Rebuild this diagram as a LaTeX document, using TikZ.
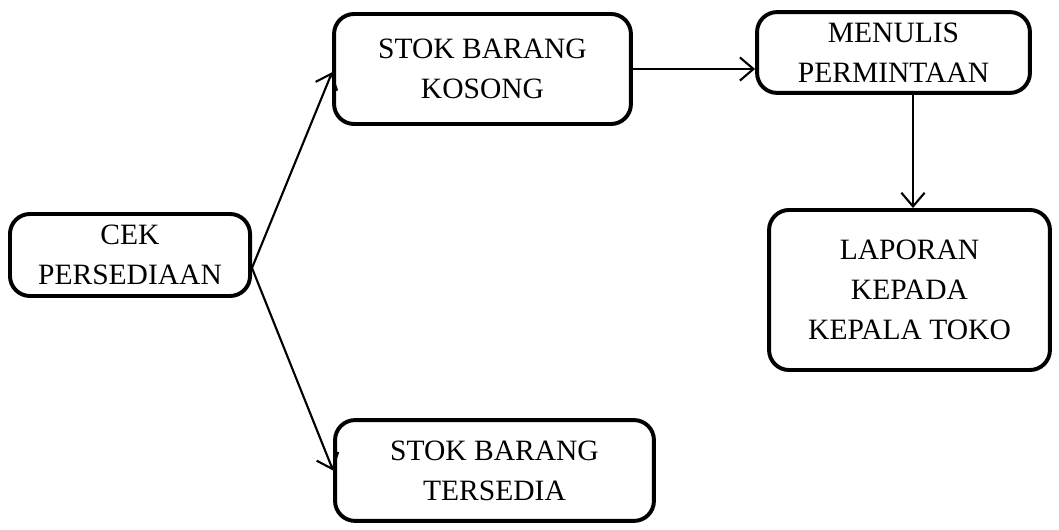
\documentclass[tikz,border=0pt]{standalone}
\usepackage{fontspec}
\setmainfont{Liberation Serif}
\usetikzlibrary{positioning,arrows.meta}

\tikzset{
  box/.style={draw,line width=2.8pt,rounded corners=0.5cm,align=center,
    inner sep=0pt,font=\fontsize{21}{28.5}\selectfont},
  arr/.style={line width=1.5pt,-{Straight Barb[length=3.4mm,width=5.8mm,line width=1.5pt]}}
}

\begin{document}
\begin{tikzpicture}[x=0.025cm,y=-0.025cm]
  \useasboundingbox (0,0) rectangle (1059,530);
  \node[box,minimum width=6cm,minimum height=2.05cm] at(130,255)(cek){CEK\\PERSEDIAAN};
  \node[box,minimum width=7.42cm,minimum height=2.75cm] at(482.5,69)(kosong){STOK BARANG\\KOSONG};
  \node[box,minimum width=7.97cm,minimum height=2.52cm] at(494.5,470.5)(tersedia){STOK BARANG\\TERSEDIA};
  \node[box,minimum width=6.82cm,minimum height=2.02cm] at(893.5,52.5)(menulis){MENULIS\\PERMINTAAN};
  \node[box,minimum width=7.02cm,minimum height=4cm] at(909.5,290)(laporan){LAPORAN\\KEPADA\\KEPALA TOKO};
  \coordinate (pisah) at (252,268);
  \coordinate (turun) at (913,0);
  \draw [arr](pisah) -- ([yshift=-0.08cm]kosong.west);
  \draw [arr](pisah) -- (tersedia.west);
  \draw [arr](kosong.east) -- (kosong.east -| menulis.west);
  \draw [arr](menulis.south -| turun) -- (laporan.north -| turun);
\end{tikzpicture}
\end{document}
